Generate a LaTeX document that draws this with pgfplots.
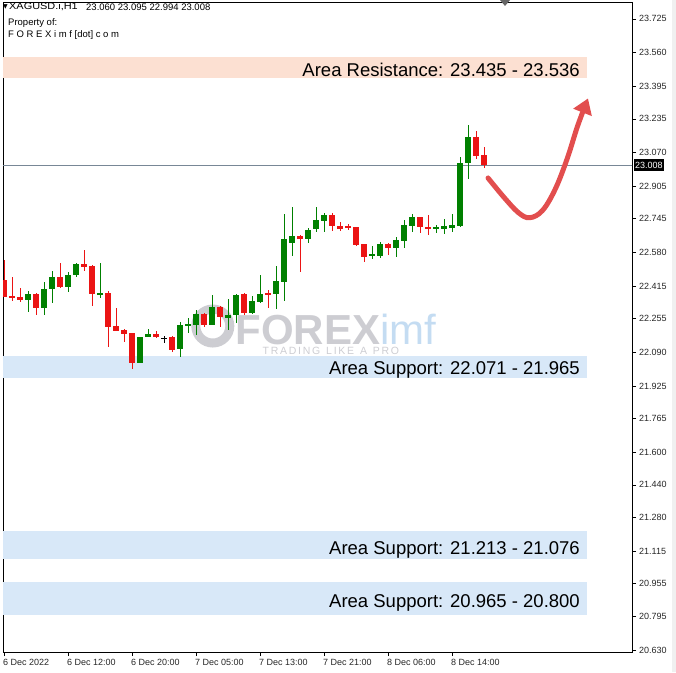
\documentclass[border=0pt]{standalone}
\usepackage{fontspec}
\setmainfont{Liberation Sans}
\newfontfamily\symfont{DejaVu Sans}
\usepackage{pgfplots}
\usepackage{pgfplotstable}
\pgfplotsset{compat=1.18}
\usetikzlibrary{arrows.meta}

\definecolor{candleup}{RGB}{0,128,0}
\definecolor{candledn}{RGB}{235,20,20}
\definecolor{zoneres}{RGB}{252,224,210}
\definecolor{zonesup}{RGB}{216,232,248}
\definecolor{priceline}{RGB}{120,135,150}
\definecolor{arrowred}{RGB}{226,78,78}
\definecolor{wmgray}{RGB}{205,205,210}
\definecolor{wmblue}{RGB}{196,220,242}

% bullish candles: bar index, open, high, low, close
\pgfplotstableread{
x  o      h      l      c
3  22.347 22.391 22.288 22.376
5  22.308 22.435 22.273 22.401
6  22.401 22.489 22.332 22.460
8  22.411 22.484 22.386 22.470
9  22.470 22.528 22.460 22.523
12 22.376 22.528 22.357 22.381
17 22.038 22.165 22.038 22.165
18 22.165 22.205 22.165 22.180
22 22.107 22.239 22.067 22.224
23 22.224 22.259 22.185 22.229
24 22.224 22.298 22.175 22.278
26 22.224 22.371 22.224 22.313
28 22.259 22.352 22.200 22.273
29 22.273 22.376 22.234 22.371
31 22.283 22.366 22.278 22.342
32 22.337 22.470 22.332 22.376
34 22.376 22.514 22.303 22.440
35 22.435 22.769 22.342 22.646
36 22.626 22.803 22.563 22.661
38 22.646 22.700 22.626 22.690
39 22.695 22.803 22.680 22.739
40 22.734 22.774 22.680 22.764
46 22.563 22.612 22.548 22.573
47 22.563 22.631 22.553 22.622
49 22.602 22.656 22.558 22.641
50 22.636 22.739 22.602 22.715
51 22.710 22.769 22.680 22.754
54 22.695 22.715 22.675 22.705
55 22.695 22.744 22.671 22.710
56 22.700 22.769 22.680 22.715
57 22.710 23.048 22.705 23.019
58 23.019 23.205 22.940 23.146
}\up

% bearish candles
\pgfplotstableread{
x  o      h      l      c
0  22.445 22.543 22.362 22.362
1  22.366 22.460 22.342 22.357
2  22.362 22.406 22.337 22.347
4  22.376 22.381 22.273 22.308
7  22.460 22.528 22.406 22.411
10 22.523 22.592 22.489 22.509
11 22.514 22.519 22.317 22.376
13 22.381 22.391 22.116 22.214
14 22.219 22.308 22.195 22.195
15 22.200 22.205 22.141 22.180
16 22.185 22.185 22.008 22.038
19 22.180 22.195 22.160 22.165
21 22.165 22.170 22.092 22.102
25 22.278 22.283 22.214 22.224
27 22.313 22.318 22.214 22.264
30 22.376 22.381 22.273 22.283
33 22.381 22.396 22.308 22.376
37 22.661 22.666 22.484 22.646
41 22.764 22.774 22.685 22.710
42 22.710 22.729 22.685 22.695
43 22.710 22.720 22.690 22.700
44 22.705 22.705 22.612 22.617
45 22.622 22.622 22.533 22.558
48 22.622 22.626 22.568 22.602
52 22.754 22.754 22.675 22.705
53 22.705 22.764 22.666 22.695
59 23.146 23.176 23.038 23.053
60 23.060 23.095 22.994 23.008
}\down

% doji
\pgfplotstableread{
x  o      h      l      c
20 22.160 22.170 22.136 22.160
}\doji

\pgfplotsset{
  wick/.style={forget plot, draw=none, error bars/.cd, y dir=both, y explicit,
    error mark=none, error bar style={draw=#1, line width=1pt}},
  body/.style={forget plot, draw=none, error bars/.cd, y dir=both, y explicit,
    error mark=none, error bar style={draw=#1, line width=5.5pt}},
}

\begin{document}
\begin{tikzpicture}
\begin{axis}[
    at={(3pt,20pt)}, anchor=south west,
    scale only axis,
    width=629pt, height=649pt,
    xmin=-0.125, xmax=78.5,
    ymin=20.6205, ymax=23.803,
    axis line style={line width=1pt},
    tick align=outside,
    major tick length=4pt,
    tick style={black, line width=0.6pt},
    xtick pos=left,
    ytick pos=right,
    yticklabel pos=right,
    xtick={0,8,16,24,32,40,48,56},
    xticklabels={6 Dec 2022,6 Dec 12:00,6 Dec 20:00,7 Dec 05:00,7 Dec 13:00,7 Dec 21:00,8 Dec 06:00,8 Dec 14:00},
    ytick={23.725,23.560,23.395,23.235,23.070,22.905,22.745,22.580,22.415,22.255,22.090,21.925,21.765,21.600,21.440,21.280,21.115,20.955,20.795,20.630},
    yticklabels={23.725,23.560,23.395,23.235,23.070,22.905,22.745,22.580,22.415,22.255,22.090,21.925,21.765,21.600,21.440,21.280,21.115,20.955,20.795,20.630},
    ticklabel style={font=\fontsize{9}{10}\selectfont, text=black!85},
    xticklabel style={anchor=north west, inner sep=0pt, xshift=-1pt, yshift=-3pt},
    yticklabel style={anchor=west, inner sep=0pt, xshift=3pt},
]
% zones
\addplot[fill=zoneres, draw=none, forget plot] coordinates {(-1,23.435) (72.9,23.435) (72.9,23.536) (-1,23.536)} -- cycle;
\addplot[fill=zonesup, draw=none, forget plot] coordinates {(-1,21.965) (72.9,21.965) (72.9,22.071) (-1,22.071)} -- cycle;
\addplot[fill=zonesup, draw=none, forget plot] coordinates {(-1,21.076) (72.9,21.076) (72.9,21.213) (-1,21.213)} -- cycle;
\addplot[fill=zonesup, draw=none, forget plot] coordinates {(-1,20.800) (72.9,20.800) (72.9,20.965) (-1,20.965)} -- cycle;

% watermark
\draw[wmgray, line width=9pt] (axis cs:26.1,22.219) circle[radius=17pt];
\node[anchor=base west, inner sep=0pt, text=wmgray, font=\bfseries\fontsize{42}{42}\selectfont]
  at (axis cs:28.9,22.130) {FOREX\textcolor{wmblue}{\mdseries imf}};
\node[anchor=base west, inner sep=0pt, text=wmgray, font=\fontsize{10.5}{11}\selectfont]
  at (axis cs:32.3,22.078) {T\,R\,A\,D\,I\,N\,G\ \ L\,I\,K\,E\ \ A\ \ P\,R\,O};

% current price line
\addplot[priceline, line width=0.8pt, forget plot] coordinates {(-1,23.008) (80,23.008)};

% candles
\addplot[wick=candleup] table[x=x, y expr={(\thisrow{h}+\thisrow{l})/2}, y error expr={(\thisrow{h}-\thisrow{l})/2}] {\up};
\addplot[body=candleup] table[x=x, y expr={(\thisrow{o}+\thisrow{c})/2}, y error expr={max(abs(\thisrow{o}-\thisrow{c})/2,0.004)}] {\up};
\addplot[wick=candledn] table[x=x, y expr={(\thisrow{h}+\thisrow{l})/2}, y error expr={(\thisrow{h}-\thisrow{l})/2}] {\down};
\addplot[body=candledn] table[x=x, y expr={(\thisrow{o}+\thisrow{c})/2}, y error expr={max(abs(\thisrow{o}-\thisrow{c})/2,0.004)}] {\down};
\addplot[wick=black] table[x=x, y expr={(\thisrow{h}+\thisrow{l})/2}, y error expr={(\thisrow{h}-\thisrow{l})/2}] {\doji};
\addplot[body=black] table[x=x, y expr={(\thisrow{o}+\thisrow{c})/2}, y error expr={0.0025}] {\doji};

% zone labels
\node[anchor=base east, inner sep=0pt, font=\fontsize{18.5}{20}\selectfont] at (axis cs:72,23.445) {Area Resistance: 23.435 - 23.536};
\node[anchor=base east, inner sep=0pt, font=\fontsize{18.5}{20}\selectfont] at (axis cs:72,21.979) {Area Support: 22.071 - 21.965};
\node[anchor=base east, inner sep=0pt, font=\fontsize{18.5}{20}\selectfont] at (axis cs:72,21.101) {Area Support: 21.213 - 21.076};
\node[anchor=base east, inner sep=0pt, font=\fontsize{18.5}{20}\selectfont] at (axis cs:72,20.841) {Area Support: 20.965 - 20.800};

% projected path
\addplot[arrowred, line width=5pt, line cap=round, smooth, tension=0.6, forget plot,
  -{Triangle[width=19pt,length=15pt]}]
  coordinates {(60.5,22.945) (62.5,22.850) (64.3,22.775) (65.7,22.750) (67.3,22.785) (68.9,22.890) (70.4,23.040) (71.7,23.200) (73.0,23.335)};
\end{axis}

% header text
\node[anchor=west, inner sep=0pt] at (3pt,665pt) {\symfont\fontsize{6}{6}\selectfont ▼};
\node[anchor=west, inner sep=0pt, font=\fontsize{9.5}{10}\selectfont] at (9pt,665pt) {\scalebox{1.15}[1]{XAGUSD.i,H1}};
\node[anchor=west, inner sep=0pt, font=\fontsize{9.5}{10}\selectfont] at (86pt,665pt) {23.060 23.095 22.994 23.008};
\node[anchor=west, inner sep=0pt, font=\fontsize{9.5}{10}\selectfont] at (8pt,649pt) {Property of:};
\node[anchor=west, inner sep=0pt, font=\fontsize{9.5}{10}\selectfont] at (8pt,637pt) {F O R E X i m f [dot] c o m};

% price tag
\node[anchor=west, fill=black, text=white, inner sep=1pt, minimum height=12pt, font=\fontsize{9}{10}\selectfont] at (634pt,507pt) {23.008};

% chart shift marker and right strip
\fill[gray!80!black] (500pt,672pt) -- (510pt,672pt) -- (505pt,666pt) -- cycle;
\fill[black!6] (672pt,0pt) rectangle (676pt,672pt);

\pgfresetboundingbox
\useasboundingbox (0pt,0pt) rectangle (676pt,672pt);
\end{tikzpicture}
\end{document}
